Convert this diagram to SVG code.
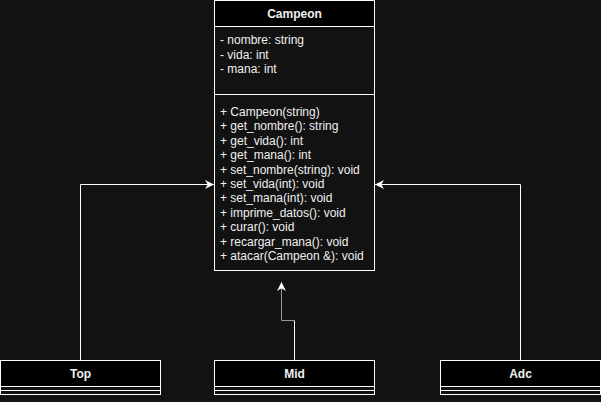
<svg xmlns="http://www.w3.org/2000/svg" width="601" height="402" viewBox="0 0 601 402">
<defs>
<marker id="arr" viewBox="0 0 10 10" refX="10" refY="5" markerWidth="9" markerHeight="9" markerUnits="userSpaceOnUse" orient="auto">
<path d="M0,0 L10,5 L0,10 L3,5 Z" fill="#ffffff"/>
</marker>
<style>
.box{fill:#121212;stroke:#ffffff;stroke-width:1}
.hdr{fill:#000000;stroke:#ffffff;stroke-width:1}
.ln{stroke:#ffffff;stroke-width:1;fill:none}
.t{font-family:"Liberation Sans",Arial,sans-serif;font-size:12px;fill:#f0f0f0}
.b{font-weight:bold;text-anchor:middle}
.c{stroke:#ffffff;stroke-width:1;fill:none}
</style>
</defs>
<rect width="601" height="402" fill="#121212"/>
<g id="Campeon">
<rect class="box" x="214.5" y="0.5" width="160" height="270"/>
<rect class="hdr" x="214.5" y="0.5" width="160" height="26"/>
<line class="ln" x1="214.5" y1="94.5" x2="374.5" y2="94.5"/>
<text class="t b" x="294.5" y="18">Campeon</text>
<text class="t" x="220" y="44.3">- nombre: string</text>
<text class="t" x="220" y="58.7">- vida: int</text>
<text class="t" x="220" y="73.1">- mana: int</text>
<text class="t" x="220" y="116">+ Campeon(string)</text>
<text class="t" x="220" y="130.4">+ get_nombre(): string</text>
<text class="t" x="220" y="144.8">+ get_vida(): int</text>
<text class="t" x="220" y="159.2">+ get_mana(): int</text>
<text class="t" x="220" y="173.6">+ set_nombre(string): void</text>
<text class="t" x="220" y="188">+ set_vida(int): void</text>
<text class="t" x="220" y="202.4">+ set_mana(int): void</text>
<text class="t" x="220" y="216.8">+ imprime_datos(): void</text>
<text class="t" x="220" y="231.2">+ curar(): void</text>
<text class="t" x="220" y="245.6">+ recargar_mana(): void</text>
<text class="t" x="220" y="260">+ atacar(Campeon &amp;): void</text>
</g>
<g id="Top">
<rect class="box" x="0.5" y="360.5" width="160" height="34"/>
<rect class="hdr" x="0.5" y="360.5" width="160" height="26"/>
<line class="ln" x1="0.5" y1="390.5" x2="160.5" y2="390.5"/>
<text class="t b" x="80.5" y="378">Top</text>
</g>
<g id="Mid">
<rect class="box" x="214.5" y="360.5" width="160" height="34"/>
<rect class="hdr" x="214.5" y="360.5" width="160" height="26"/>
<line class="ln" x1="214.5" y1="390.5" x2="374.5" y2="390.5"/>
<text class="t b" x="294.5" y="378">Mid</text>
</g>
<g id="Adc">
<rect class="box" x="440.5" y="360.5" width="160" height="34"/>
<rect class="hdr" x="440.5" y="360.5" width="160" height="26"/>
<line class="ln" x1="440.5" y1="390.5" x2="600.5" y2="390.5"/>
<text class="t b" x="520.5" y="378">Adc</text>
</g>
<g id="connectors">
<path class="c" d="M80.5,360 L80.5,184.5 L214,184.5" marker-end="url(#arr)"/>
<path class="c" d="M520.5,360 L520.5,184.5 L375,184.5" marker-end="url(#arr)"/>
<path class="c" d="M294.5,360 L294.5,320.5"/>
<path d="M294.5,320.5 L281.5,320.5 L281.5,282" stroke="#9a9a9a" stroke-width="1" fill="none" marker-end="url(#arr)"/>
</g>
</svg>
